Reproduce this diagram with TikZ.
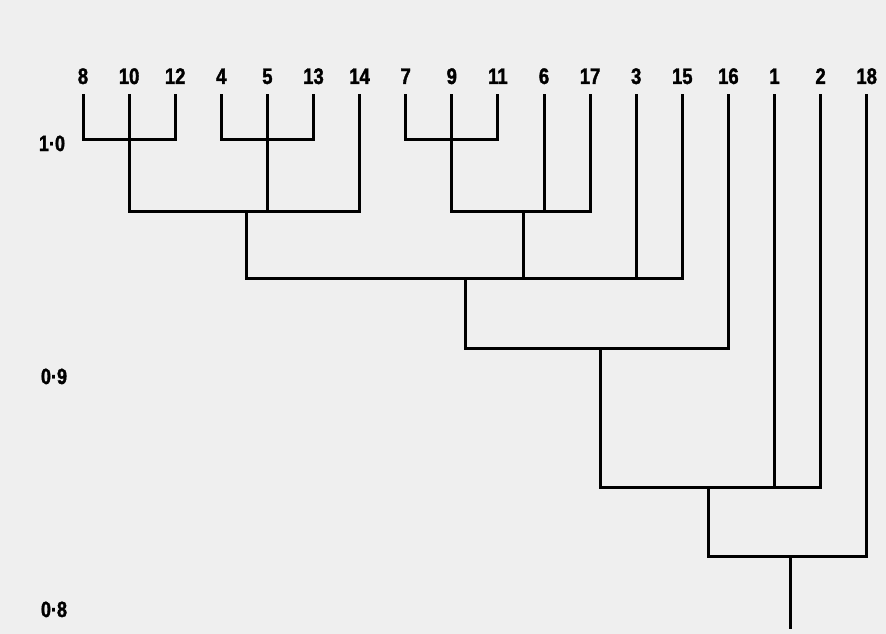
\documentclass[tikz,border=0pt]{standalone}
\usepackage{fontspec}
\newfontfamily\numfont{Liberation Sans}[FakeStretch=0.82,BoldFeatures={FakeBold=1.6}]
\usepackage{xcolor}
\definecolor{paper}{HTML}{EFEFEF}

\begin{document}
\begin{tikzpicture}[x=1pt,y=-1pt,
  leaf/.style={anchor=base,inner sep=0pt,font=\numfont\bfseries\fontsize{22.5}{22.5}\selectfont},
  level/.style={anchor=base,inner sep=0pt,font=\numfont\bfseries\fontsize{22}{22}\selectfont},
  branch/.style={line width=3pt,line cap=rect,line join=miter}]

\fill[paper] (0,0) rectangle (886,634);
\useasboundingbox (0,0) rectangle (886,634);

% leaves, left to right
\foreach \n [count=\i from 0] in {8,10,12,4,5,13,14,7,9,11,6,17,3,15,16,1,2,18}{
  \node[leaf] (l\n) at (83+46.1*\i,84) {\n};
  \coordinate (t\n) at (83+46.1*\i,95);
}

% similarity scale
\node[level] (s10) at (52,151) {1·0};
\node[level] (s09) at (54,384) {0·9};
\node[level] (s08) at (54,617) {0·8};

% merge points
\coordinate (a1) at (129,139);
\coordinate (a2) at (268,139);
\coordinate (a3) at (453,139);
\coordinate (c1) at (246,211);
\coordinate (c2) at (523,211);
\coordinate (d1) at (465,278);
\coordinate (e1) at (600,348);
\coordinate (f1) at (708,487);
\coordinate (g1) at (790,556);
\coordinate (root) at (790,627);

\draw[branch] (t8) |- (a1) -| (t12);
\draw[branch] (t4) |- (a2) -| (t13);
\draw[branch] (t7) |- (a3) -| (t11);

\draw[branch] (t10) |- (c1) -| (t14);
\draw[branch] (t5) -- (t5 |- c1);
\draw[branch] (t9) |- (c2) -| (t17);
\draw[branch] (t6) -- (t6 |- c2);

\draw[branch] (c1) |- (d1) -| (t15);
\draw[branch] (c2) -- (c2 |- d1);
\draw[branch] (t3) -- (t3 |- d1);

\draw[branch] (d1) |- (e1) -| (t16);
\draw[branch] (e1) |- (f1) -| (t2);
\draw[branch] (t1) -- (t1 |- f1);
\draw[branch] (f1) |- (g1) -| (t18);
\draw[branch] (g1) -- (root);

\end{tikzpicture}
\end{document}
